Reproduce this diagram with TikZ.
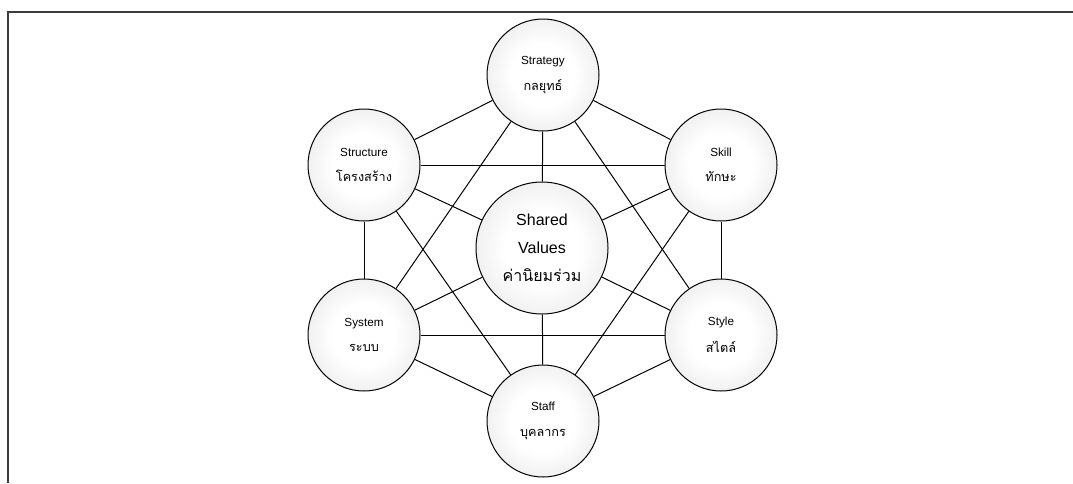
\documentclass[tikz,border=0pt]{standalone}
\usepackage{fontspec}
\setmainfont{Liberation Sans}
\newfontfamily\thaifont[Script=Thai]{Loma}
\usepackage{tikz}
\usetikzlibrary{backgrounds}
\usepackage{xcolor}
\definecolor{framegray}{RGB}{60, 60, 60}
\definecolor{rimgray}{RGB}{208, 208, 208}

% white core fading to a light grey rim
\pgfdeclareradialshading{bulb}{\pgfpoint{0bp}{0bp}}{color(0bp)=(white); color(14bp)=(white); color(50bp)=(rimgray); color(100bp)=(rimgray)}

\newcommand{\thsmall}[1]{{\thaifont\fontsize{9.5}{11}\selectfont #1}}
\newcommand{\thlarge}[1]{{\thaifont\fontsize{12}{14}\selectfont #1}}

\tikzset{
  element/.style={circle, draw=black, line width=0.75pt, minimum size=84pt,
    inner sep=0pt, align=center, shading=bulb,
    font=\fontsize{8.8}{10}\selectfont},
  core/.style={element, minimum size=99pt, font=\fontsize{12}{14}\selectfont},
  link/.style={black, line width=0.75pt}
}

\begin{document}
\begin{tikzpicture}[x=0.75pt, y=-0.75pt]
    \useasboundingbox (0,0) rectangle (1073,483);
    \draw[framegray, line width=1.5pt] (1073,12) -- (8,12) -- (8,483);

    % The seven elements
    \node[core] (shared) at (542,248) {Shared\\[7pt]Values\\[7pt]\thlarge{ค่านิยมร่วม}};

    \node[element] (strategy) at (543,75) {Strategy\\[8pt]\thsmall{กลยุทธ์}};
    \node[element] (structure) at (364,165) {Structure\\[9pt]\thsmall{โครงสร้าง}};
    \node[element] (skill) at (721,165) {Skill\\[9pt]\thsmall{ทักษะ}};
    \node[element] (system) at (364,335) {System\\[9pt]\thsmall{ระบบ}};
    \node[element] (style) at (721,335) {Style\\[9pt]\thsmall{สไตล์}};
    \node[element] (staff) at (543,421) {Staff\\[9pt]\thsmall{บุคลากร}};

    % Links between elements
    \begin{scope}[on background layer]
        \foreach \a/\b in {strategy/structure, strategy/skill, structure/system,
                           skill/style, system/staff, style/staff,
                           structure/skill, system/style, strategy/system,
                           strategy/style, staff/structure, staff/skill}
            \draw[link] (\a) -- (\b);
        \foreach \a in {strategy, structure, skill, system, style, staff}
            \draw[link] (shared) -- (\a);
    \end{scope}
\end{tikzpicture}
\end{document}
